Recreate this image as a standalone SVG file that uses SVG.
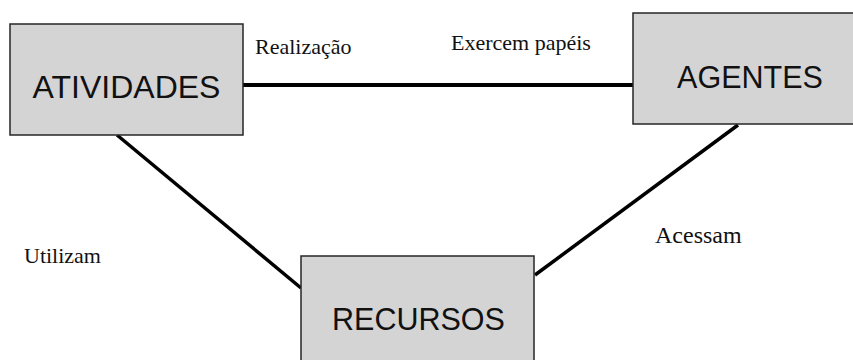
<svg xmlns="http://www.w3.org/2000/svg" width="853" height="360" viewBox="0 0 853 360">
<style>
.box{fill:#d4d4d4;stroke:#262626;stroke-width:1.5}
.lbl{font-family:"Liberation Sans",Arial,sans-serif;font-size:31px;fill:#111;text-anchor:middle}
.edge{stroke:#000;fill:none}
.elbl{font-family:"Liberation Serif","Times New Roman",serif;font-size:22px;fill:#111}
</style>
<rect width="853" height="360" fill="#fff"/>
<g id="connectors">
<line class="edge" x1="243" y1="85" x2="633" y2="85" stroke-width="4"/>
<line class="edge" x1="117" y1="135" x2="301" y2="288" stroke-width="3.5"/>
<line class="edge" x1="738" y1="125" x2="535" y2="275" stroke-width="3.5"/>
<text class="elbl" x="255" y="54">Realização</text>
<text class="elbl" x="451" y="50">Exercem papéis</text>
<text class="elbl" x="24" y="263">Utilizam</text>
<text class="elbl" x="655" y="243" style="font-size:24px">Acessam</text>
</g>
<g id="atividades">
<rect class="box" x="10" y="24" width="233" height="111"/>
<text class="lbl" x="126.5" y="98" style="font-size:32px">ATIVIDADES</text>
</g>
<g id="agentes">
<rect class="box" x="633" y="13" width="225" height="111"/>
<text class="lbl" x="750" y="88" style="font-size:30.5px">AGENTES</text>
</g>
<g id="recursos">
<rect class="box" x="301" y="256" width="233" height="115"/>
<text class="lbl" x="418.5" y="330" style="font-size:30.5px">RECURSOS</text>
</g>
</svg>
